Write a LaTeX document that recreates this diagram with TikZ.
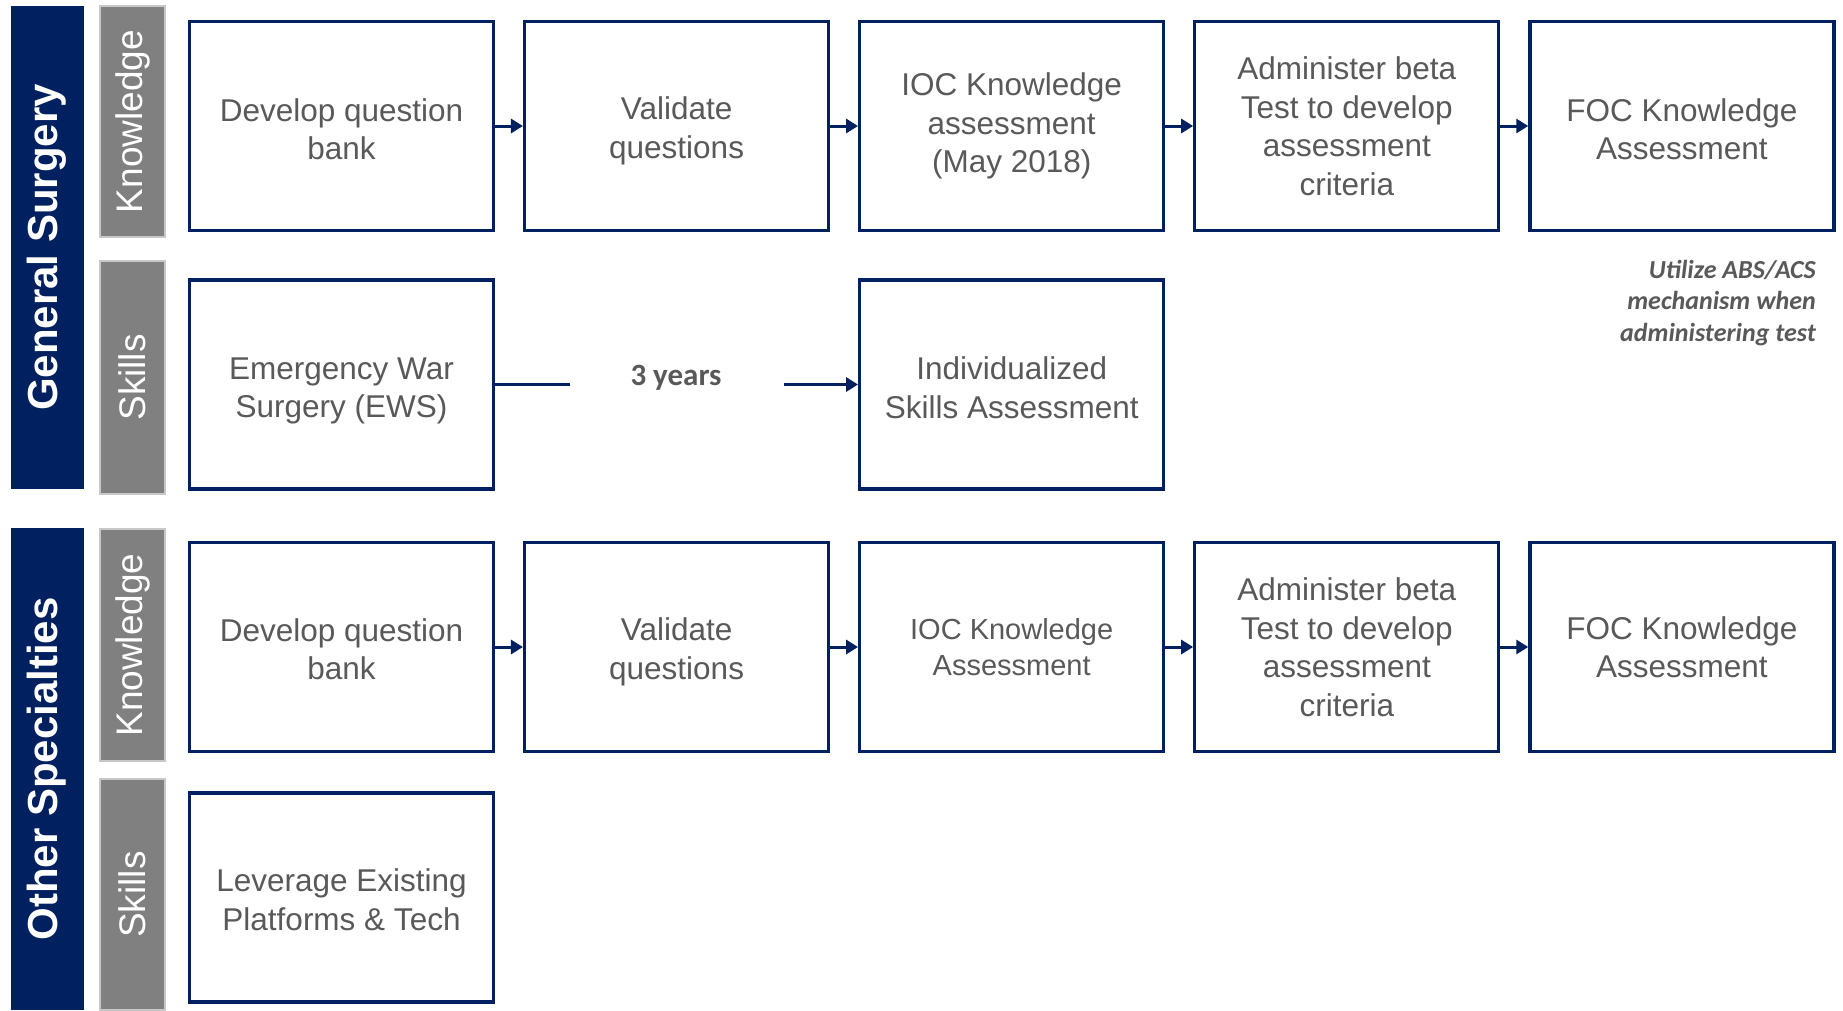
\documentclass[tikz,border=0pt]{standalone}
\usepackage{fontspec}
\setmainfont{Liberation Sans}
\newfontfamily\calibri{Carlito}
\usetikzlibrary{arrows.meta}
\definecolor{navy}{HTML}{002060}
\definecolor{txtgray}{HTML}{595959}
\definecolor{bargray}{HTML}{808080}
\definecolor{barline}{HTML}{C8C8C8}
% taller first line, to set a two-line label a little lower in its box
\newcommand{\firstline}[1]{\rule{0pt}{#1pt}}

\begin{document}
\begin{tikzpicture}[x=1pt,y=-1pt,
  specbar/.style={rotate=90, fill=navy, draw=none, inner sep=0pt,
    minimum height=73pt, text=white,
    font=\bfseries\fontsize{42}{50}\selectfont},
  trackbar/.style={rotate=90, fill=bargray, draw=barline, line width=1.5pt,
    inner sep=0pt, minimum height=65pt, text=white,
    font=\fontsize{37}{44}\selectfont},
  stepbox/.style={draw=navy, line width=3.3pt, fill=white,
    minimum width=304pt, minimum height=209pt, inner sep=4pt,
    align=center, text=txtgray, font=\fontsize{31.5}{38.5}\selectfont},
  smallbox/.style={stepbox, font=\fontsize{29}{36.5}\selectfont},
  flow/.style={draw=navy, line width=3pt,
    -{Triangle[length=12pt,width=14pt]}},
  plain/.style={draw=navy, line width=3pt},
  note/.style={text=txtgray, align=right, inner sep=0pt,
    font=\calibri\bfseries\itshape\fontsize{26}{31.7}\selectfont}
]
\useasboundingbox (0,0) rectangle (1843,1010);

% specialty bars
\node[specbar, minimum width=483pt] (gs) at (47,247.5) {General Surgery};
\node[specbar, minimum width=482pt] (os) at (47,769) {Other Specialties};

% track bars
\node[trackbar, minimum width=231pt] (gsk) at (132.5,121.5) {Knowledge};
\node[trackbar, minimum width=233pt] (gss) at (132.5,377.5) {Skills};
\node[trackbar, minimum width=232pt] (osk) at (132.5,645) {Knowledge};
\node[trackbar, minimum width=231pt] (oss) at (132.5,894.5) {Skills};

% general surgery, knowledge track
\node[stepbox] (a1) at (341.5,126) {\firstline{29}Develop question\\bank};
\node[stepbox] (a2) at (676.6,126) {\firstline{33}Validate\\questions};
\node[stepbox] (a3) at (1011.7,126) {IOC Knowledge\\assessment\\(May 2018)};
\node[stepbox] (a4) at (1346.8,126) {Administer beta\\Test to develop\\assessment\\criteria};
\node[stepbox] (a5) at (1681.9,126) {\firstline{29}FOC Knowledge\\Assessment};

% general surgery, skills track
\node[stepbox] (s1) at (341.5,384.5) {\firstline{35}Emergency War\\Surgery (EWS)};
\node[stepbox] (s2) at (1011.7,384.5) {\firstline{29}Individualized\\Skills Assessment};
\node[text=txtgray, inner sep=0pt, font=\calibri\bfseries\fontsize{31}{37}\selectfont]
  (yrs) at (676,378) {3 years};
\coordinate (gapL) at (570,384.5);
\coordinate (gapR) at (784,384.5);

\node[note, anchor=east] (util) at (1816,303)
  {Utilize ABS/ACS\\mechanism when\\administering test};

% other specialties, knowledge track
\node[stepbox] (b1) at (341.5,647) {\firstline{27}Develop question\\bank};
\node[stepbox] (b2) at (676.6,647) {\firstline{33}Validate\\questions};
\node[smallbox] (b3) at (1011.7,647) {IOC Knowledge\\Assessment};
\node[stepbox] (b4) at (1346.8,647) {Administer beta\\Test to develop\\assessment\\criteria};
\node[stepbox] (b5) at (1681.9,647) {FOC Knowledge\\Assessment};

% other specialties, skills track
\node[stepbox] (t1) at (341.5,897.5) {\firstline{27}Leverage Existing\\Platforms \& Tech};

% connectors
\draw[flow] (a1) -- (a2);
\draw[flow] (a2) -- (a3);
\draw[flow] (a3) -- (a4);
\draw[flow] (a4) -- (a5);
\draw[flow] (b1) -- (b2);
\draw[flow] (b2) -- (b3);
\draw[flow] (b3) -- (b4);
\draw[flow] (b4) -- (b5);
\draw[plain] (s1.east) -- (gapL);
\draw[flow] (gapR) -- (s2.west);
\end{tikzpicture}
\end{document}
